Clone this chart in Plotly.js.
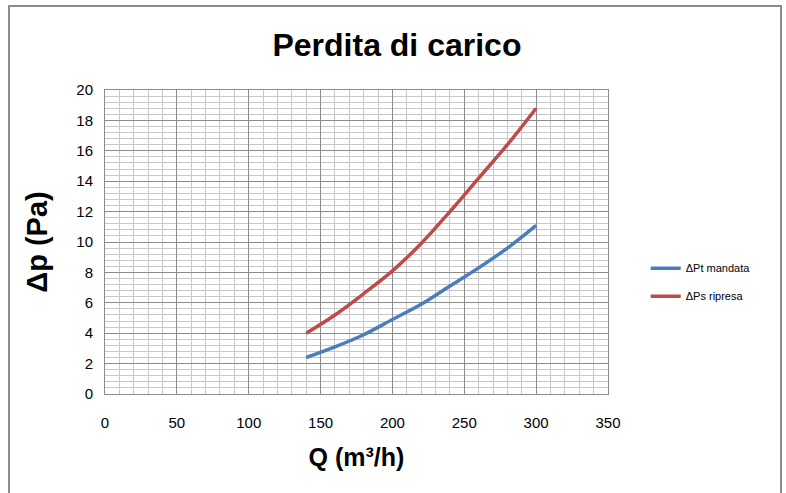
<!DOCTYPE html>
<html><head><meta charset="utf-8">
<script src="https://cdn.plot.ly/plotly-3.0.1.min.js"></script>
<style>
html,body{margin:0;padding:0;background:#fff;}
#frame{position:absolute;left:8px;top:5px;width:774px;height:500px;border:2px solid #8c8c8c;box-sizing:border-box;pointer-events:none;}
#chart{width:786px;height:493px;}
</style>
</head><body>
<div id="chart"></div>
<div id="frame"></div>
<script>
const flow = [140, 160, 180, 200, 220, 240, 260, 280, 300];
const dpMandata = [2.4, 3.1, 3.9, 4.9, 5.9, 7.1, 8.3, 9.6, 11.1];
const dpRipresa = [4.0, 5.2, 6.6, 8.1, 9.9, 12.0, 14.2, 16.4, 18.8];
const seriesNames = ['ΔPt mandata', 'ΔPs ripresa'];
const xTicks = [0, 50, 100, 150, 200, 250, 300, 350];
const yTicks = [0, 2, 4, 6, 8, 10, 12, 14, 16, 18, 20];

const font = 'Liberation Sans, Arial, sans-serif';
const traces = [
  {x: flow, y: dpMandata, name: seriesNames[0], mode: 'lines', line: {color: '#4a7ebb', width: 3.5, shape: 'spline'}, legendgroup: 'a'},
  {x: flow, y: dpRipresa, name: seriesNames[1], mode: 'lines', line: {color: '#be4b48', width: 3.5, shape: 'spline'}, legendgroup: 'b'}
];
const layout = {
  width: 786, height: 493,
  margin: {l: 105, r: 178, t: 90, b: 99},
  paper_bgcolor: '#fff', plot_bgcolor: '#fff',
  title: {text: '<b>Perdita di carico</b>', font: {family: font, size: 32, color: '#000'}, x: 0.505, xanchor: 'center', y: 0.91, yanchor: 'middle', yref: 'container'},
  xaxis: {
    range: [0, 350], tickvals: xTicks, ticktext: xTicks.map(String), showgrid: true, gridcolor: '#8c8c8c', gridwidth: 1,
    minor: {dtick: 10, showgrid: true, gridcolor: '#c8c8c8', gridwidth: 1},
    showline: true, linecolor: '#8c8c8c', linewidth: 1, mirror: true, zeroline: false, ticks: '',
    ticklabelstandoff: 15,
    tickfont: {family: font, size: 15, color: '#000'},
    title: {text: '<b>Q (m³/h)</b>', font: {family: font, size: 25, color: '#000'}, standoff: 18}
  },
  yaxis: {
    range: [0, 20], tickvals: yTicks, ticktext: yTicks.map(String), showgrid: true, gridcolor: '#8c8c8c', gridwidth: 1,
    minor: {dtick: 0.4, showgrid: true, gridcolor: '#c8c8c8', gridwidth: 1},
    showline: true, linecolor: '#8c8c8c', linewidth: 1, mirror: true, zeroline: false, ticks: '',
    ticklabelstandoff: 8,
    tickfont: {family: font, size: 15, color: '#000'},
    title: {text: '<b>Δp (Pa)</b>', font: {family: font, size: 29, color: '#000'}, standoff: 20}
  },
  showlegend: true,
  legend: {x: 1.075, xanchor: 'left', y: 0.368, yanchor: 'middle', font: {family: font, size: 11, color: '#000'}, traceorder: 'grouped', tracegroupgap: 9, bgcolor: 'rgba(0,0,0,0)'}
};
Plotly.newPlot('chart', traces, layout, {displayModeBar: false, staticPlot: true});
</script>
</body></html>
